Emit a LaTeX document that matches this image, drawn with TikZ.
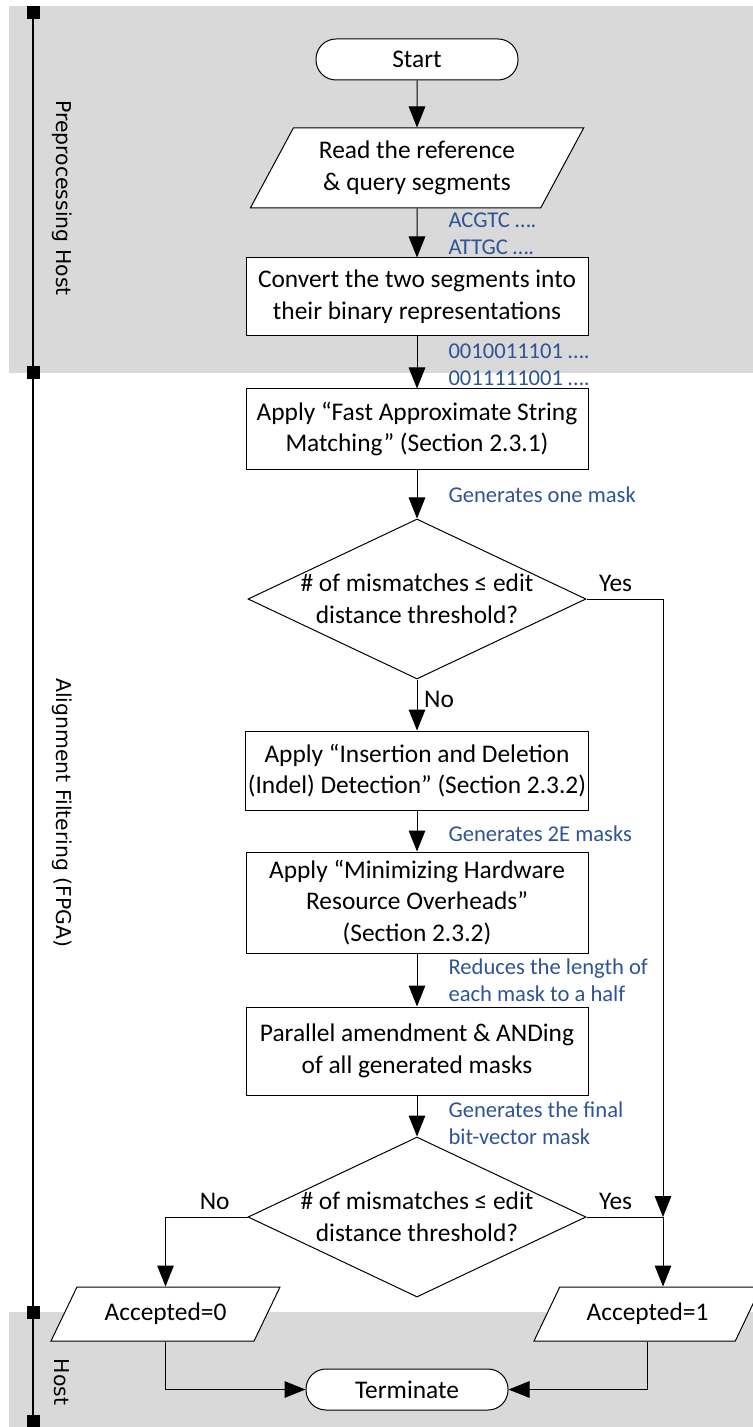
\documentclass[tikz,border=0pt]{standalone}
\usepackage{fontspec}
\setmainfont{Carlito}
\newfontfamily\lanefont{DejaVu Sans}
\usetikzlibrary{arrows.meta,shapes.geometric}
\definecolor{lanegray}{RGB}{217,217,217}
\definecolor{noteblue}{RGB}{47,84,150}
\newcommand{\flowfont}{\fontsize{12.7}{15.8}\selectfont}
\newcommand{\notefont}{\fontsize{11.3}{13.4}\selectfont}
\newcommand{\lanetext}{\lanefont\fontsize{10.2}{12}\selectfont}
\tikzset{
  arr/.style={-{Triangle[length=10.5pt,width=8.3pt]}},
  proc/.style={draw, fill=white, minimum width=171pt, align=center, inner xsep=1pt, font=\flowfont},
  term/.style={draw, fill=white, rounded corners=10pt, minimum width=101pt, minimum height=20.5pt, font=\flowfont},
  io/.style={draw, fill=white, trapezium, trapezium left angle=63, trapezium right angle=117, trapezium stretches=true, align=center, inner xsep=0pt, font=\flowfont},
  decision/.style={draw, fill=white, diamond, inner sep=0pt, minimum width=169pt, minimum height=80pt},
  note/.style={anchor=west, align=left, inner sep=0pt, text=noteblue, font=\notefont},
  lane/.style={rotate=-90, font=\lanetext},
  tag/.style={font=\flowfont}
}
\begin{document}
\begin{tikzpicture}[x=0.5pt,y=-0.5pt,line width=0.5pt]
\useasboundingbox (0,0) rectangle (753,1427);
% swim lanes
\fill[lanegray] (9,6) rectangle (753,373);
\fill[lanegray] (9,1312) rectangle (753,1427);
\draw[line width=1pt] (33,6) -- (33,1427);
\foreach \y in {6,366.5,1305.5,1415}
  \fill (26.5,\y) rectangle ++(13,13);
\node[lane] (lanepre) at (62,198) {Preprocessing Host};
\node[lane] (lanefpga) at (62,813) {Alignment Filtering (FPGA)};
\node[lane] (lanehost) at (62,1382) {Host};

% flow
\node[term] (start) at (417,59.5) {Start};
\node[io, minimum width=167pt, minimum height=40pt] (read) at (417,168) {Read the reference\\\& query segments};
\node[proc, minimum height=39pt] (convert) at (417,297) {Convert the two segments into\\their binary representations};
\node[proc, minimum height=40pt] (fast) at (417,429) {Apply “Fast Approximate String\\Matching” (Section 2.3.1)};
\node[decision, label={[font=\flowfont, align=center]center:{\# of mismatches ≤ edit\\distance threshold?}}] (dec1) at (417,599) {};
\node[proc, minimum height=39.5pt] (indel) at (417,770.5) {Apply “Insertion and Deletion\\(Indel) Detection” (Section 2.3.2)};
\node[proc, minimum height=50.5pt] (minim) at (417,902.5) {Apply “Minimizing Hardware\\Resource Overheads”\\(Section 2.3.2)};
\node[proc, minimum height=44pt] (para) at (417,1051) {Parallel amendment \& ANDing\\of all generated masks};
\node[decision, label={[font=\flowfont, align=center]center:{\# of mismatches ≤ edit\\distance threshold?}}] (dec2) at (417,1217) {};
\node[io, minimum width=115.5pt, minimum height=27pt] (acc0) at (165.5,1314) {Accepted=0};
\node[io, minimum width=114.5pt, minimum height=27pt] (acc1) at (647.5,1314) {Accepted=1};
\node[term] (term) at (407,1389.5) {Terminate};

% notes beside the arrows
\node[note] (seqs) at (448,233.5) {ACGTC ….\\ATTGC ….};
\node[note] (bins) at (448,365) {0010011101 ….\\0011111001 ….};
\node[note] (onemask) at (448,495) {Generates one mask};
\node[note] (twoe) at (448,834) {Generates 2E masks};
\node[note] (half) at (448,980) {Reduces the length of\\each mask to a half};
\node[note] (final) at (448,1123) {Generates the final\\bit-vector mask};

\coordinate (yesc) at (663,599);
\coordinate (yesj) at (663,1217);

\draw[arr] (start) -- (read);
\draw[arr] (read) -- (convert);
\draw[arr] (convert) -- (fast);
\draw[arr] (fast) -- (dec1);
\draw[arr] (dec1) -- node[tag, right, pos=0.4] {No} (indel);
\draw[arr] (indel) -- (minim);
\draw[arr] (minim) -- (para);
\draw[arr] (para) -- (dec2);
\draw[arr] (dec1.east) -- node[tag, above, pos=0.38] {Yes} (yesc) -- (yesj);
\draw (dec2.east) -- node[tag, above, pos=0.38] {Yes} (yesj);
\draw[arr] (yesj) -- (yesj |- acc1.north);
\draw[arr] (dec2.west) -- node[tag, above, pos=0.4] {No} (dec2.west -| acc0.north) -- (acc0.north);
\draw[arr] (acc0.south) |- (term.west);
\draw[arr] (acc1.south) |- (term.east);
\end{tikzpicture}
\end{document}
